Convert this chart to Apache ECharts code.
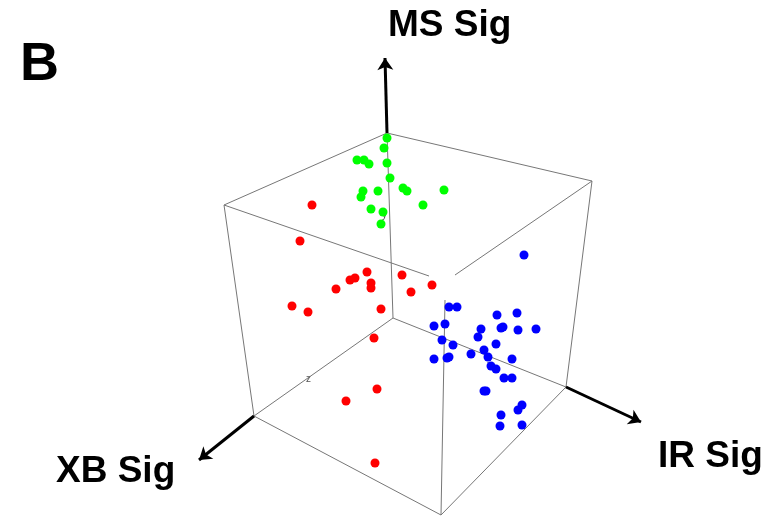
<!DOCTYPE html>
<html>
<head>
<meta charset="utf-8">
<script src="https://cdn.jsdelivr.net/npm/echarts@6/dist/echarts.min.js"></script>
<style>html,body{margin:0;padding:0;background:#fff;}#c{width:778px;height:523px;}</style>
</head>
<body>
<div id="c"></div>
<script>
// Projected positions of points (screen-like units)
const greenPts = [[387,138],[384,148],[357,160],[364,160],[369,164],[387,163],[390,178],[363,191],[361,197],[378,191],[403,188],[407,191],[444,190],[423,205],[371,209],[383,212],[381,224]];
const redPts = [[312,205],[300,241],[367,272],[355,278],[350,280],[371,283],[371,288],[402,275],[336,289],[411,292],[432,285],[292,306],[308,312],[381,309],[374,338],[377,389],[346,401],[375,463]];
const bluePts = [[524,255],[449,307],[457,307],[497,315],[517,313],[434,326],[445,324],[481,329],[501,328],[503,327],[518,330],[536,329],[442,340],[478,337],[453,345],[496,344],[434,359],[447,358],[449,357],[471,354],[484,350],[488,357],[491,366],[496,369],[512,359],[504,378],[512,378],[484,391],[486,391],[522,405],[518,410],[501,415],[500,426],[522,425]];
// Box edges (projected)
const cubeEdges = [
  [[387,133],[224,205]], [[387,133],[592,181]],
  [[224,205],[429,276]], [[592,181],[455,275]],
  [[393,318],[254,416]], [[393,318],[566,387]],
  [[254,416],[441,515]], [[566,387],[441,515]],
  [[387,133],[393,318]], [[224,205],[254,416]],
  [[592,181],[566,387]], [[445,300],[441,515]]
];
// Axis arrows
const axisArrows = [
  [[387,133],[385,58]],
  [[254,416],[199,460]],
  [[566,387],[641,422]]
];
const axisNames = ['MS Sig', 'XB Sig', 'IR Sig'];
const tickLetters = ['y', 'z', 'x'];

const chart = echarts.init(document.getElementById('c'), null, {renderer: 'canvas'});
const font = '"Liberation Sans", Arial, sans-serif';
chart.setOption({
  animation: false,
  backgroundColor: '#ffffff',
  grid: {left: 0, right: 0, top: 0, bottom: 0},
  xAxis: {type: 'value', min: 0, max: 778, show: false},
  yAxis: {type: 'value', min: 0, max: 523, inverse: true, show: false},
  series: [
    {
      type: 'lines', coordinateSystem: 'cartesian2d', silent: true, z: 1,
      lineStyle: {color: '#777777', width: 1, opacity: 1},
      data: cubeEdges.map(c => ({coords: c}))
    },
    {
      type: 'lines', coordinateSystem: 'cartesian2d', silent: true, z: 2,
      symbol: ['none', 'arrow'], symbolSize: 12,
      lineStyle: {color: '#000000', width: 3, opacity: 1},
      data: axisArrows.map(c => ({coords: c}))
    },
    {type: 'scatter', data: redPts, symbol: 'circle', symbolSize: 9, itemStyle: {color: '#ff0000', opacity: 1}, z: 3},
    {type: 'scatter', data: greenPts, symbol: 'circle', symbolSize: 9, itemStyle: {color: '#00ff00', opacity: 1}, z: 3},
    {type: 'scatter', data: bluePts, symbol: 'circle', symbolSize: 9, itemStyle: {color: '#0000ff', opacity: 1}, z: 3}
  ],
  graphic: [
    {type: 'text', left: 20, top: 38, style: {text: 'B', font: 'bold 54px ' + font, fill: '#000'}},
    {type: 'text', left: 388, top: 7, style: {text: axisNames[0], font: 'bold 37px ' + font, fill: '#000'}},
    {type: 'text', left: 56, top: 453, style: {text: axisNames[1], font: 'bold 37px ' + font, fill: '#000'}},
    {type: 'text', left: 658, top: 438, style: {text: axisNames[2], font: 'bold 37px ' + font, fill: '#000'}},
    {type: 'text', left: 382, top: 210, style: {text: tickLetters[0], font: '10px ' + font, fill: '#555'}},
    {type: 'text', left: 306, top: 374, style: {text: tickLetters[1], font: '10px ' + font, fill: '#555'}},
    {type: 'text', left: 487, top: 360, style: {text: tickLetters[2], font: '10px ' + font, fill: '#555'}}
  ]
});
</script>
</body>
</html>
